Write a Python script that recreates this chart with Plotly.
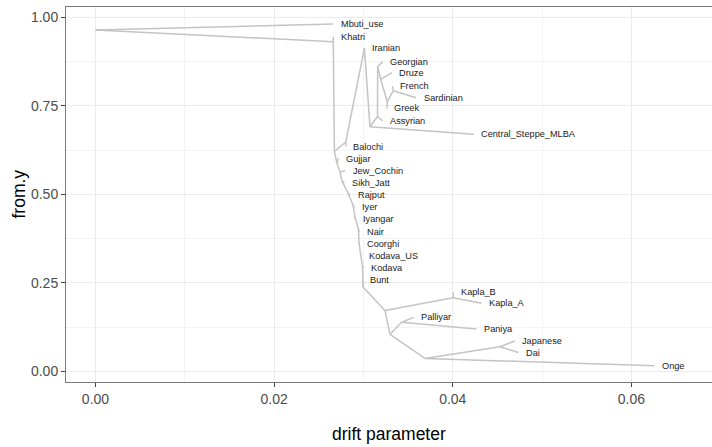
import plotly.graph_objects as go

# ---- data (drift parameter x, layout y) ----
node_names = ["root", "Mbuti_use", "A", "Khatri", "S", "T", "Balochi", "Iranian", "W",
              "Central_Steppe_MLBA", "C0", "Assyrian", "C1", "Georgian", "D", "Druze",
              "G", "Greek", "FS", "French", "Sardinian",
              "P1", "Gujjar", "P2", "Jew_Cochin", "P3", "Sikh_Jatt", "P4", "Rajput",
              "P5", "Iyer", "P6", "Iyangar", "P7", "Nair", "P8", "Coorghi", "P9", "Kodava_US",
              "P10", "Kodava", "P11", "Bunt", "K", "KB", "Kapla_B", "Kapla_A", "L", "PN",
              "Palliyar", "Paniya", "M", "JD", "Japanese", "Dai", "Onge"]
node_x = [0.0, 0.02662, 0.02662, 0.02662, 0.02675, 0.02802, 0.02804, 0.03011, 0.03073,
          0.04237, 0.03157, 0.03216, 0.03159, 0.03216, 0.03193, 0.03317,
          0.03267, 0.03263, 0.03334, 0.03325, 0.03590,
          0.02703, 0.02720, 0.02737, 0.02795, 0.02759, 0.02787, 0.02827, 0.02851,
          0.02883, 0.02899, 0.02905, 0.02907, 0.02944, 0.02952, 0.02950, 0.02952, 0.02967, 0.02974,
          0.02989, 0.03000, 0.02995, 0.02992, 0.03241, 0.04005, 0.04005, 0.04323, 0.03297, 0.03428,
          0.03565, 0.04265, 0.03689, 0.04528, 0.04696, 0.04735, 0.06258]
node_y = [0.9641, 0.9811, 0.9311, 0.9452, 0.6209, 0.6477, 0.6350, 0.9133, 0.6910,
          0.6695, 0.7198, 0.7071, 0.8610, 0.8746, 0.8249, 0.8435,
          0.7616, 0.7424, 0.7927, 0.8059, 0.7729,
          0.5884, 0.6011, 0.5630, 0.5672, 0.5376, 0.5333, 0.5037, 0.4980,
          0.4698, 0.4633, 0.4359, 0.4294, 0.4020, 0.3944, 0.3653, 0.3596, 0.3314, 0.3266,
          0.2975, 0.2918, 0.2381, 0.2571, 0.1718, 0.2079, 0.2232, 0.1921, 0.1045, 0.1384,
          0.1525, 0.1195, 0.0362, 0.0695, 0.0856, 0.0531, 0.0158]

edge_from = ["root", "root", "A", "A", "S", "T", "T", "Iranian", "W", "W", "C0", "C0", "C1",
             "C1", "D", "D", "G", "G", "FS", "FS",
             "S", "P1", "P1", "P2", "P2", "P3", "P3", "P4", "P4", "P5", "P5", "P6", "P6",
             "P7", "P7", "P8", "P8", "P9", "P9", "P10", "P10", "P11", "P11",
             "K", "KB", "KB", "K", "L", "PN", "PN", "L", "M", "JD", "JD", "M"]
edge_to = ["Mbuti_use", "A", "Khatri", "S", "T", "Balochi", "Iranian", "W", "Central_Steppe_MLBA",
           "C0", "Assyrian", "C1", "Georgian", "D", "Druze", "G", "Greek", "FS", "French", "Sardinian",
           "P1", "Gujjar", "P2", "Jew_Cochin", "P3", "Sikh_Jatt", "P4", "Rajput", "P5", "Iyer", "P6",
           "Iyangar", "P7", "Nair", "P8", "Coorghi", "P9", "Kodava_US", "P10", "Kodava", "P11",
           "Bunt", "K",
           "KB", "Kapla_B", "Kapla_A", "L", "PN", "Palliyar", "Paniya", "M", "JD", "Japanese", "Dai",
           "Onge"]

leaves = ["Mbuti_use", "Khatri", "Iranian", "Georgian", "Druze", "French", "Sardinian", "Greek",
          "Assyrian", "Central_Steppe_MLBA", "Balochi", "Gujjar", "Jew_Cochin", "Sikh_Jatt",
          "Rajput", "Iyer", "Iyangar", "Nair", "Coorghi", "Kodava_US", "Kodava", "Bunt",
          "Kapla_B", "Kapla_A", "Palliyar", "Paniya", "Japanese", "Dai", "Onge"]

x_ticks = [0.0, 0.02, 0.04, 0.06]
y_ticks = [0.0, 0.25, 0.5, 0.75, 1.0]

# ---- build ----
pos = {n: (x, y) for n, x, y in zip(node_names, node_x, node_y)}
seg_x, seg_y = [], []
for f, t in zip(edge_from, edge_to):
    seg_x += [pos[f][0], pos[t][0], None]
    seg_y += [pos[f][1], pos[t][1], None]

fig = go.Figure()
fig.add_trace(go.Scatter(x=seg_x, y=seg_y, mode="lines",
                         line=dict(color="#c4c4c4", width=1.5), hoverinfo="skip",
                         showlegend=False))

for lf in leaves:
    fig.add_annotation(x=pos[lf][0], y=pos[lf][1], text=lf, showarrow=False,
                       xanchor="left", yanchor="middle", xshift=5.5,
                       font=dict(family="Liberation Sans, Arial", size=9.2, color="#1a1a1a"))

fig.add_annotation(xref="paper", yref="paper", x=0.5, y=0, yshift=-52, text="drift parameter",
                   showarrow=False, xanchor="center", yanchor="middle",
                   font=dict(family="Liberation Sans, Arial", size=17.5, color="#000"))
fig.add_annotation(xref="paper", yref="paper", x=0, y=0.5, xshift=-48, text="from.y",
                   textangle=-90, showarrow=False, xanchor="center", yanchor="middle",
                   font=dict(family="Liberation Sans, Arial", size=17.5, color="#000"))

axis_common = dict(showline=True, linecolor="#7a7a7a", linewidth=1, ticks="outside",
                   ticklen=4, tickcolor="#444", tickwidth=1, zeroline=False,
                   showgrid=True, gridcolor="#ebebeb", gridwidth=1,
                   tickfont=dict(family="Liberation Sans, Arial", size=14, color="#4d4d4d"))

fig.update_layout(
    width=712, height=447,
    margin=dict(l=66, r=0, t=7, b=65),
    plot_bgcolor="white", paper_bgcolor="white",
    xaxis=dict(range=[-0.0033, 0.06902], tickvals=x_ticks, tickformat=".2f", mirror=True,
               minor=dict(dtick=0.01, tick0=0, showgrid=True, gridcolor="#f3f3f3", gridwidth=0.6,
                          ticks=""),
               **axis_common),
    yaxis=dict(range=[-0.0302, 1.0291], tickvals=y_ticks, tickformat=".2f", mirror=False,
               minor=dict(dtick=0.125, tick0=0, showgrid=True, gridcolor="#f3f3f3", gridwidth=0.6,
                          ticks=""),
               **axis_common),
)

fig.write_html("out.html")
